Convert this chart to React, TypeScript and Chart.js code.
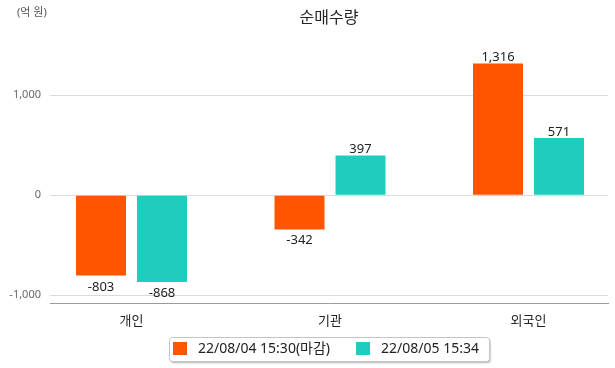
import React, { useEffect, useRef } from "react";
import { Chart, registerables } from "chart.js";

Chart.register(...registerables);

const categories = ["개인", "기관", "외국인"];
const seriesNames = ["22/08/04 15:30(마감)", "22/08/05 15:34"];
const series1 = [-803, -342, 1316];
const series2 = [-868, 397, 571];
const yTicks = [-1000, 0, 1000];
const chartTitle = "순매수량";
const unitLabel = "(억 원)";

const COLORS = ["#FF5500", "#1ECDBD"];
const FONT = "'Noto Sans', 'Noto Sans CJK KR', sans-serif";

const fmt = (v: number) => v.toLocaleString("en-US");

const decorPlugin = {
  id: "decor",
  afterDatasetsDraw(chart: any) {
    const ctx = chart.ctx;
    ctx.save();
    ctx.font = `13px ${FONT}`;
    ctx.fillStyle = "#222";
    ctx.textAlign = "center";
    ctx.textBaseline = "alphabetic";
    chart.data.datasets.forEach((ds: any, di: number) => {
      const meta = chart.getDatasetMeta(di);
      meta.data.forEach((bar: any, i: number) => {
        const v = ds.data[i] as number;
        const p = bar.getProps(["x", "y", "base"], true);
        if (v >= 0) {
          ctx.fillText(fmt(v), p.x, p.y - 2.5);
        } else {
          ctx.fillText(fmt(v), p.x, p.y + 15);
        }
      });
    });
    ctx.restore();
  },
  afterDraw(chart: any) {
    const ctx = chart.ctx;
    const area = chart.chartArea;
    const cx = (area.left + area.right) / 2;
    ctx.save();
    // title
    ctx.font = `16px ${FONT}`;
    ctx.fillStyle = "#222";
    ctx.textAlign = "center";
    ctx.textBaseline = "middle";
    ctx.fillText(chartTitle, cx, 18);
    // unit
    ctx.font = `11px ${FONT}`;
    ctx.fillStyle = "#555";
    ctx.textAlign = "left";
    ctx.fillText(unitLabel, 17, 13);

    // legend
    ctx.font = `14px ${FONT}`;
    const sq = 14;
    const gapSqText = 11;
    const itemGap = 26;
    const padL = 4;
    const padR = 10;
    const widths = seriesNames.map((n) => ctx.measureText(n).width);
    let total = padL + padR;
    widths.forEach((w, i) => {
      total += sq + gapSqText + w + (i > 0 ? itemGap : 0);
    });
    total = Math.round(total);
    const fx = Math.round(cx - total / 2) + 0.5;
    const fy = 337.5;
    const fh = 24;
    ctx.save();
    ctx.shadowColor = "rgba(0,0,0,0.3)";
    ctx.shadowOffsetX = 1;
    ctx.shadowOffsetY = 1.5;
    ctx.shadowBlur = 2;
    ctx.beginPath();
    (ctx as any).roundRect(fx, fy, total, fh, 3);
    ctx.fillStyle = "#fff";
    ctx.fill();
    ctx.restore();
    ctx.beginPath();
    (ctx as any).roundRect(fx, fy, total, fh, 3);
    ctx.strokeStyle = "#c4c4c4";
    ctx.lineWidth = 1;
    ctx.stroke();
    let x = fx - 0.5 + padL;
    seriesNames.forEach((n, i) => {
      if (i > 0) x += itemGap;
      ctx.fillStyle = COLORS[i];
      ctx.fillRect(x, 342, sq, 13);
      x += sq + gapSqText;
      ctx.fillStyle = "#222";
      ctx.textAlign = "left";
      ctx.textBaseline = "middle";
      ctx.fillText(n, x, 349);
      x += widths[i];
    });
    ctx.restore();
  },
};

export default function App() {
  const ref = useRef<HTMLCanvasElement | null>(null);
  useEffect(() => {
    document.body.style.margin = "0";
    const canvas = ref.current!;
    const chart = new Chart(canvas, {
      type: "bar",
      data: {
        labels: categories,
        datasets: [
          {
            label: seriesNames[0],
            data: series1,
            backgroundColor: COLORS[0],
            categoryPercentage: 0.6146,
            barPercentage: 0.8197,
          },
          {
            label: seriesNames[1],
            data: series2,
            backgroundColor: COLORS[1],
            categoryPercentage: 0.6146,
            barPercentage: 0.8197,
          },
        ] as any,
      },
      options: {
        animation: false,
        responsive: false,
        devicePixelRatio: 1,
        layout: { padding: { top: 45, left: 0, right: 7, bottom: 35 } },
        plugins: {
          legend: { display: false },
          title: { display: false },
          tooltip: { enabled: false },
        },
        scales: {
          x: {
            type: "category",
            offset: false,
            grid: { display: false, drawTicks: false },
            border: { display: true, color: "#9a9a9a", width: 1 },
            ticks: {
              padding: 10,
              color: "#222",
              font: { size: 13, family: FONT },
              maxRotation: 0,
              autoSkip: false,
            },
            afterBuildTicks: (scale: any) => {
              scale.ticks = categories.map((_, i) => ({ value: i }));
              scale._startValue = -0.4106;
              scale._valueRange = categories.length - 1 + 0.4106 + 0.4005;
            },
            afterFit: (scale: any) => {
              scale.height = 30;
            },
          },
          y: {
            min: -1077,
            max: 1500,
            grid: { color: "#dadada", drawTicks: false, lineWidth: 1 },
            border: { display: false },
            ticks: {
              padding: 9,
              color: "#666",
              font: { size: 11, family: FONT },
              callback: (v: any) => fmt(Number(v)),
            },
            afterBuildTicks: (scale: any) => {
              scale.ticks = yTicks.map((v) => ({ value: v }));
            },
            afterFit: (scale: any) => {
              scale.width = 50;
            },
          },
        },
      } as any,
      plugins: [decorPlugin],
    });
    return () => chart.destroy();
  }, []);
  return (
    <div style={{ width: 615, height: 368 }}>
      <canvas ref={ref} width={615} height={368} style={{ display: "block" }} />
    </div>
  );
}
